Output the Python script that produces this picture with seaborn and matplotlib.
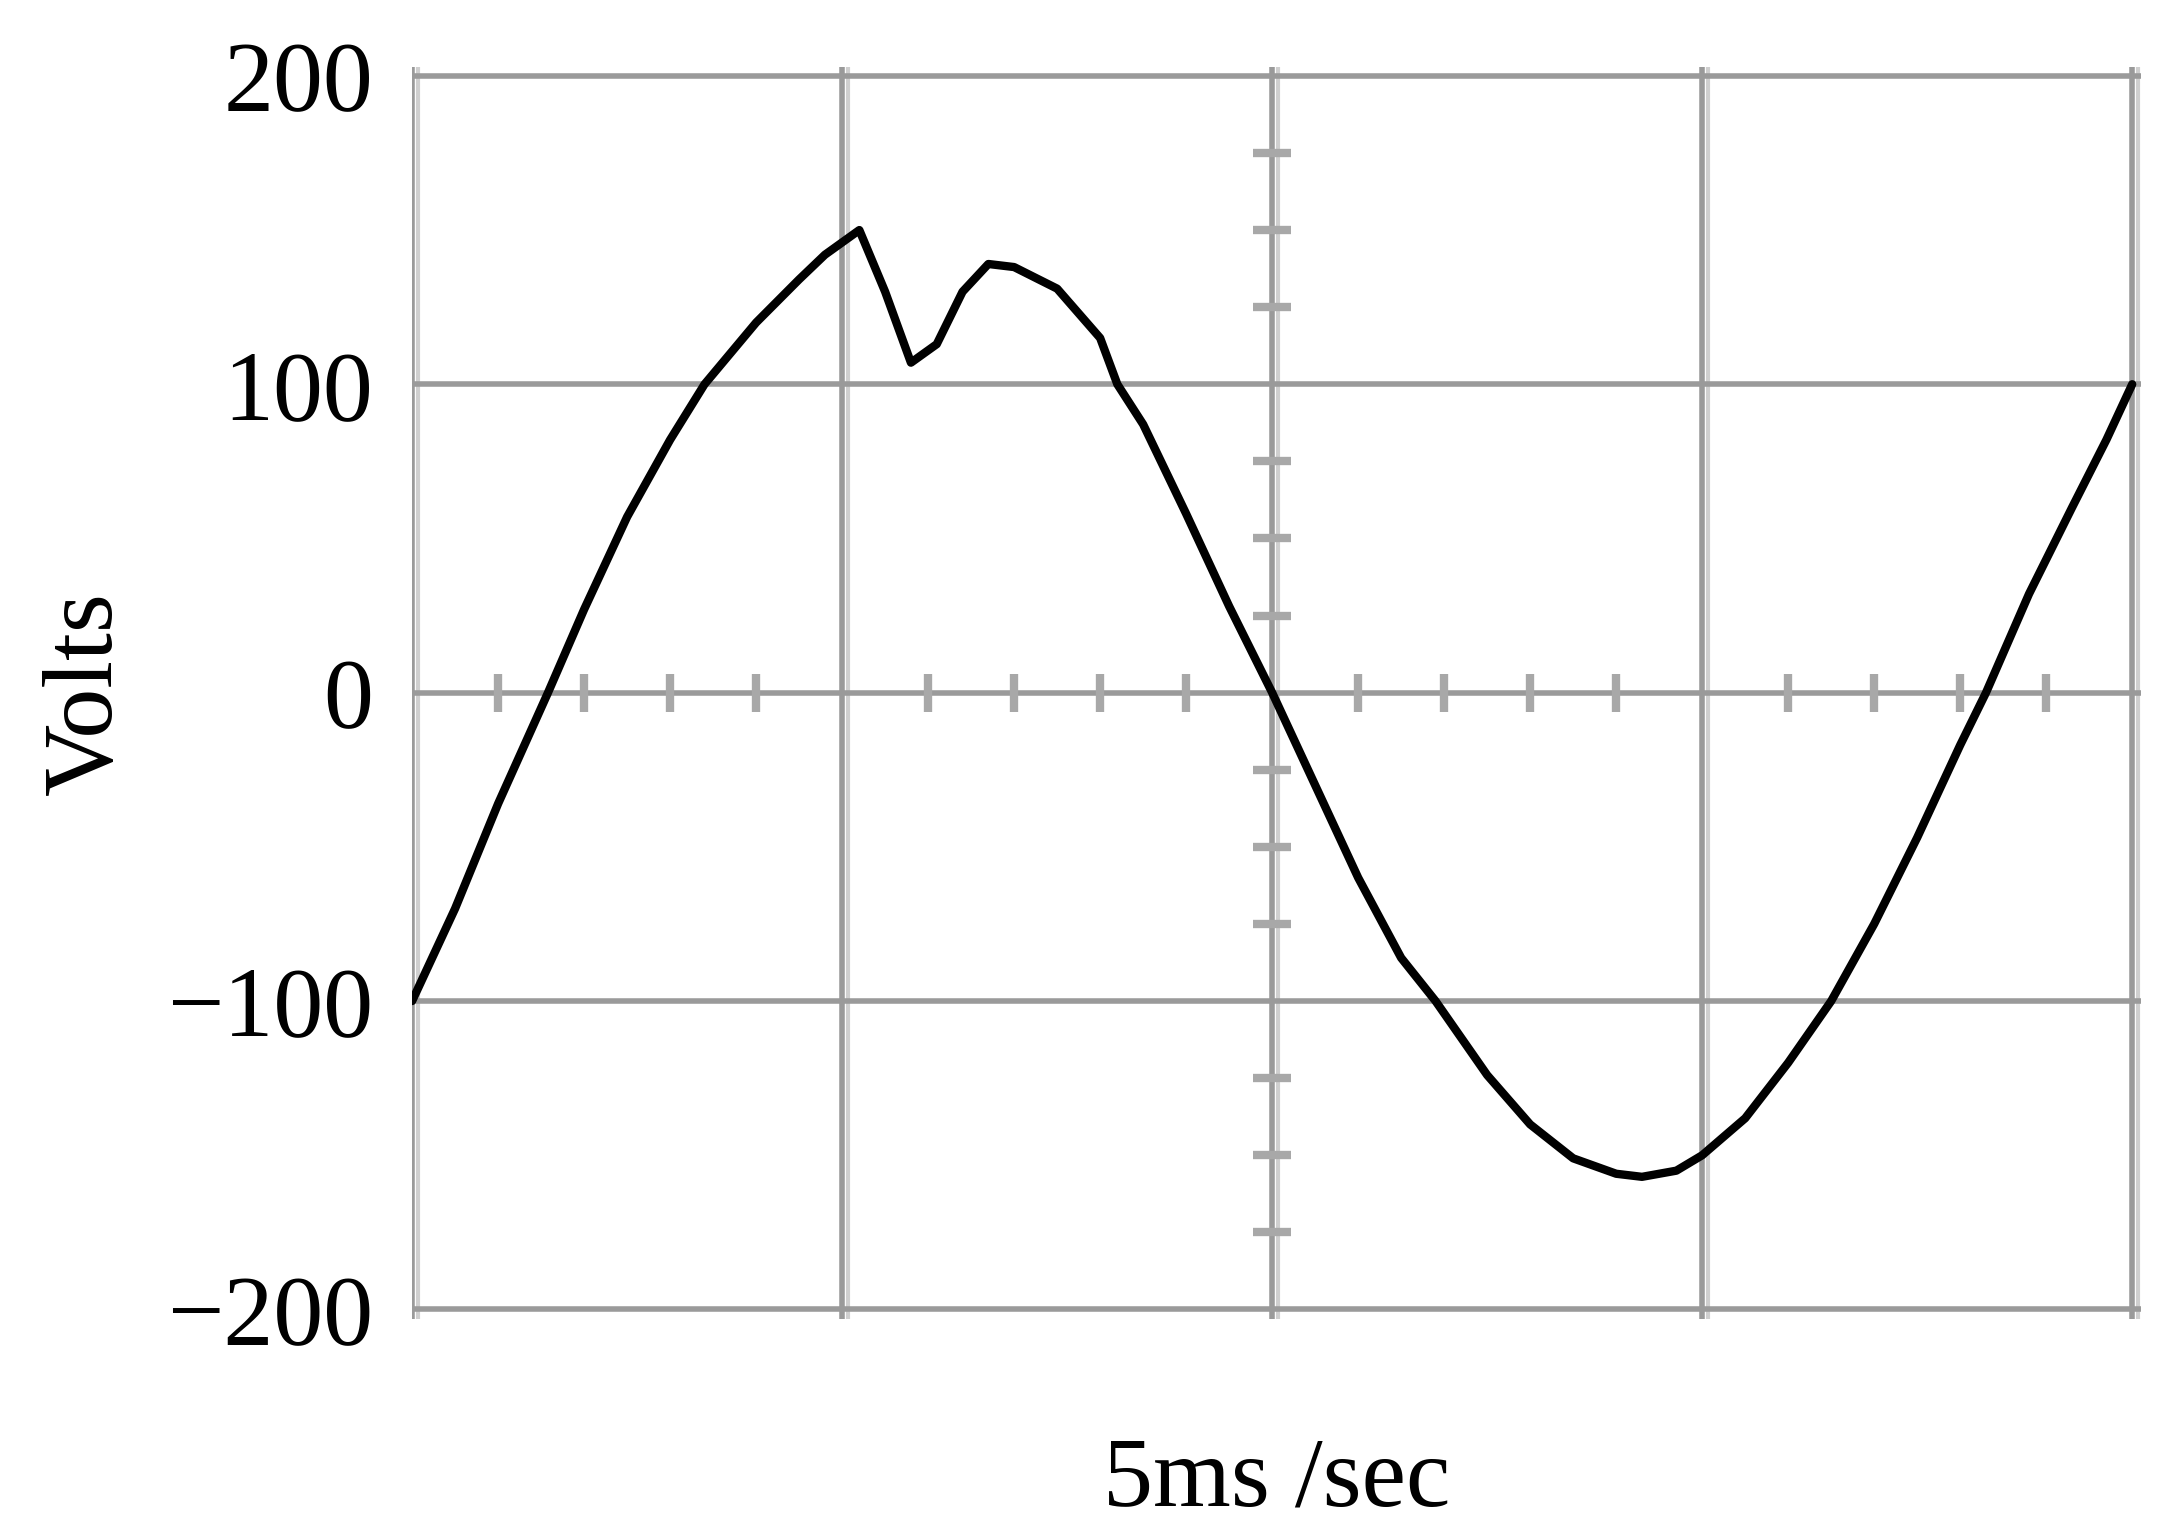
import matplotlib
matplotlib.use("Agg")
import matplotlib.pyplot as plt
import seaborn as sns
import pandas as pd

t_ms = [0, 0.5, 1.0, 1.58, 2.0, 2.5, 3.0, 3.4, 4.0, 4.5, 4.8, 5.0, 5.2, 5.5, 5.8, 6.1, 6.4, 6.7, 7.0, 7.5, 8.0, 8.2,
        8.5, 9.0, 9.5, 10.0, 10.5, 11.0, 11.5, 11.9, 12.5, 13.0, 13.5, 14.0, 14.3, 14.7, 15.0, 15.5, 16.0,
        16.5, 17.0, 17.5, 18.0, 18.3, 18.8, 19.3, 19.7, 20.0]
volts = [-100, -70, -36, 0, 27, 57, 82, 100, 120, 134, 142, 146, 150, 130, 107, 113, 130, 139, 138, 131, 115, 100,
         87, 58, 28, 0, -30, -60, -86, -100, -124, -140, -151, -156, -157, -155, -150, -138, -120,
         -100, -75, -47, -17, 0, 32, 60, 82, 100]
y_ticks = [-200, -100, 0, 100, 200]
x_grid = [0, 5, 10, 15, 20]
x_minor = [1, 2, 3, 4, 6, 7, 8, 9, 11, 12, 13, 14, 16, 17, 18, 19]
y_minor = [-175, -150, -125, -75, -50, -25, 25, 50, 75, 125, 150, 175]

sns.set_style("white")
plt.rcParams['font.family'] = ['Liberation Serif', 'DejaVu Serif']
fig = plt.figure(figsize=(21.69, 15.14), dpi=100)
ax = fig.add_axes([0.19, 0.129, 0.797, 0.827])
grid_c = "#9a9a9a"
for x in x_grid:
    ax.axvline(x, color=grid_c, lw=4, zorder=1)
    ax.axvline(x + 0.07, color="#cfcfcf", lw=3, zorder=1)
for y in y_ticks:
    ax.axhline(y, color=grid_c, lw=4, zorder=1)
ax.plot(x_minor, [0]*len(x_minor), ls='none', marker='|', ms=28, mew=6, color="#a8a8a8", zorder=1)
ax.plot([10]*len(y_minor), y_minor, ls='none', marker='_', ms=28, mew=6, color="#a8a8a8", zorder=1)
df = pd.DataFrame({"t": t_ms, "v": volts})
sns.lineplot(data=df, x="t", y="v", ax=ax, color="black", lw=6, zorder=3)
ax.set_xlim(0, 20.1)
ax.set_ylim(-203, 203)
ax.set_yticks(y_ticks)
ax.set_yticklabels([str(v).replace('-', '\u2212') for v in y_ticks], fontsize=72, color="black")
ax.set_xticks([])
ax.tick_params(axis='y', length=0, pad=28)
for s in ax.spines.values():
    s.set_visible(False)
ax.set_xlabel("5ms /sec", fontsize=72, labelpad=85, color="black")
ax.set_ylabel("Volts", fontsize=72, labelpad=25, color="black")
fig.savefig("out.png", dpi=100)
